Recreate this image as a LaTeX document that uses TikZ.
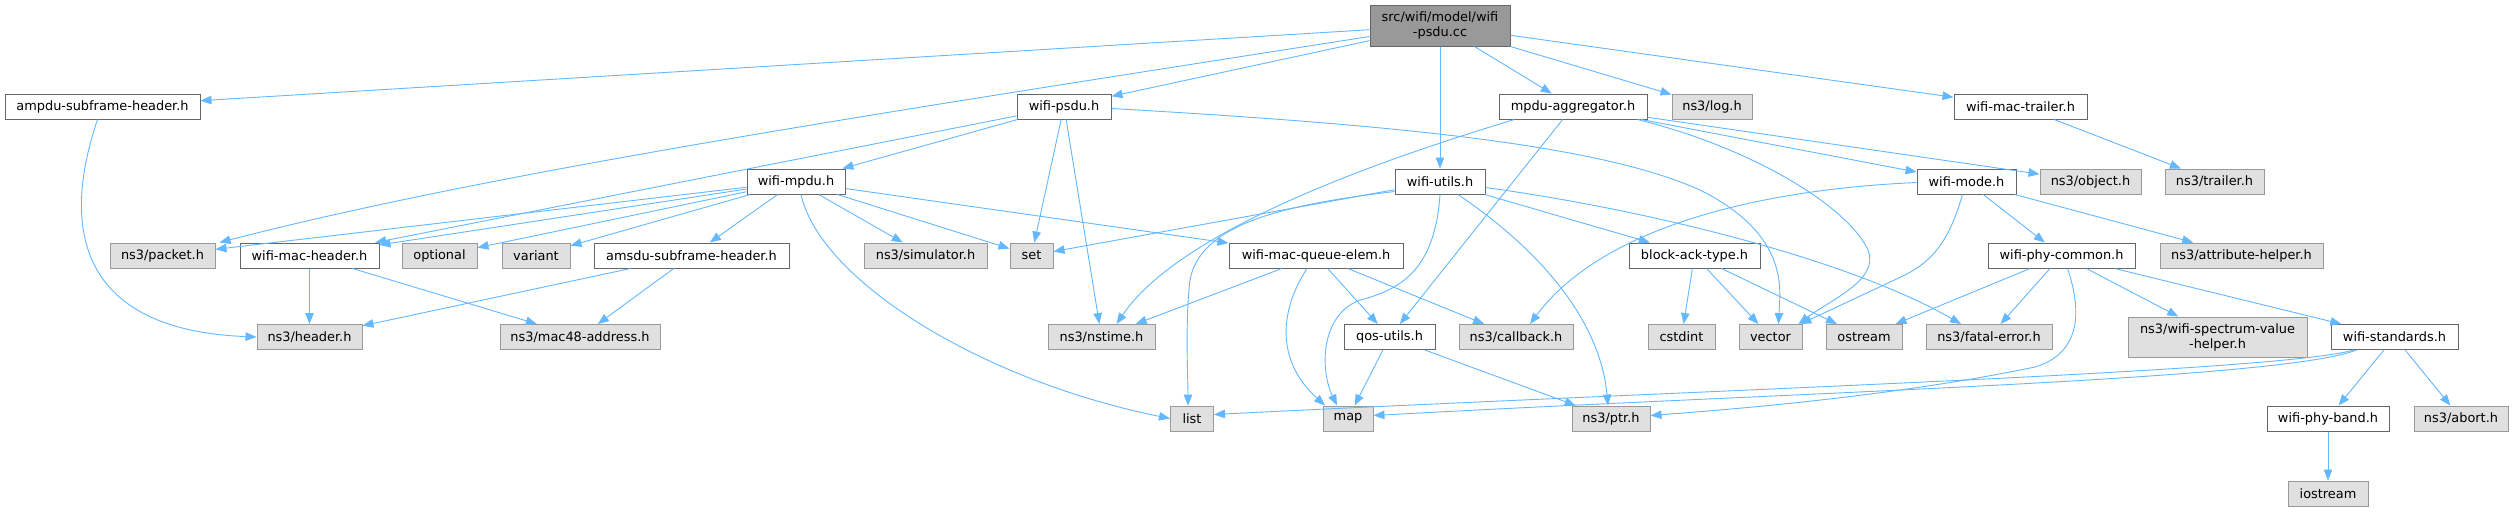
\documentclass[tikz,border=0pt]{standalone}
\usepackage{fontspec}
\setmainfont{DejaVu Sans}
\usetikzlibrary{calc,arrows.meta}
\definecolor{edgec}{HTML}{63B8FF}
\definecolor{wborder}{HTML}{666666}
\definecolor{gfill}{HTML}{E0E0E0}
\definecolor{gborder}{HTML}{999999}
\definecolor{rootfill}{HTML}{999999}
\begin{document}
\begin{tikzpicture}[x=1pt,y=-1pt,
  box/.style={rectangle,inner sep=0pt,minimum height=25pt,line width=1pt,
    font=\fontsize{12.9}{15}\selectfont,text=black},
  wn/.style={box,draw=wborder,fill=white},
  gn/.style={box,draw=gborder,fill=gfill},
  rn/.style={box,draw=wborder,fill=rootfill,align=center},
  e/.style={draw=edgec,line width=0.9pt,-{Triangle[length=11pt,width=8.5pt]}}]
\useasboundingbox (0,0) rectangle (2515,512);
\fill[white] (0,0) rectangle (2515,512);
% row 0
\node[rn,minimum width=140pt,minimum height=41pt] (root) at (1440,25.5) {src/wifi/model/wifi\\-psdu.cc};
% row 1
\node[wn,minimum width=195pt] (ampdu) at (102.5,106.5) {ampdu-subframe-header.h};
\node[wn,minimum width=94pt] (wpsdu) at (1064,106.5) {wifi-psdu.h};
\node[wn,minimum width=148pt] (mpduagg) at (1573,106.5) {mpdu-aggregator.h};
\node[gn,minimum width=80pt] (log) at (1712,106.5) {ns3/log.h};
\node[wn,minimum width=133pt] (trailer) at (2020.5,106.5) {wifi-mac-trailer.h};
% row 2
\node[wn,minimum width=98pt] (wmpdu) at (796,181.5) {wifi-mpdu.h};
\node[wn,minimum width=90pt] (wutils) at (1440,181.5) {wifi-utils.h};
\node[wn,minimum width=99pt] (wmode) at (1966.5,181.5) {wifi-mode.h};
\node[gn,minimum width=101pt] (object) at (2090.5,181.5) {ns3/object.h};
\node[gn,minimum width=99pt] (trailerh) at (2214.5,181.5) {ns3/trailer.h};
% row 3
\node[gn,minimum width=105pt] (packet) at (162.5,255.5) {ns3/packet.h};
\node[wn,minimum width=139pt] (machdr) at (309.5,255.5) {wifi-mac-header.h};
\node[gn,minimum width=75pt] (optional) at (439.5,255.5) {optional};
\node[gn,minimum width=68pt] (variant) at (536,255.5) {variant};
\node[wn,minimum width=195pt] (amsdu) at (691.5,255.5) {amsdu-subframe-header.h};
\node[gn,minimum width=123pt] (simulator) at (925.5,255.5) {ns3/simulator.h};
\node[gn,minimum width=43pt] (set) at (1031.5,255.5) {set};
\node[wn,minimum width=174pt] (queueelem) at (1316,255.5) {wifi-mac-queue-elem.h};
\node[wn,minimum width=131pt] (blockack) at (1694.5,255.5) {block-ack-type.h};
\node[wn,minimum width=147pt] (phycommon) at (2061.5,255.5) {wifi-phy-common.h};
\node[gn,minimum width=163pt] (attr) at (2241.5,255.5) {ns3/attribute-helper.h};
% row 4
\node[gn,minimum width=105pt] (header) at (309.5,337) {ns3/header.h};
\node[gn,minimum width=160pt] (mac48) at (580,337) {ns3/mac48-address.h};
\node[gn,minimum width=107pt] (nstime) at (1101.5,337) {ns3/nstime.h};
\node[wn,minimum width=91pt] (qos) at (1389.5,337) {qos-utils.h};
\node[gn,minimum width=114pt] (callback) at (1516,337) {ns3/callback.h};
\node[gn,minimum width=67pt] (cstdint) at (1681.5,337) {cstdint};
\node[gn,minimum width=63pt] (vector) at (1770.5,337) {vector};
\node[gn,minimum width=76pt] (ostream) at (1864,337) {ostream};
\node[gn,minimum width=126pt] (fatal) at (1989,337) {ns3/fatal-error.h};
\node[gn,minimum width=179pt,minimum height=40pt,align=center] (spectrum) at (2217.5,337) {ns3/wifi-spectrum-value\\-helper.h};
\node[wn,minimum width=127pt] (standards) at (2394.5,337) {wifi-standards.h};
% row 5
\node[gn,minimum width=43pt] (list) at (1192,418.5) {list};
\node[gn,minimum width=50pt] (map) at (1348,418.5) {map};
\node[gn,minimum width=78pt] (ptr) at (1611,418.5) {ns3/ptr.h};
\node[wn,minimum width=122pt] (phyband) at (2328,418.5) {wifi-phy-band.h};
\node[gn,minimum width=94pt] (abort) at (2461,418.5) {ns3/abort.h};
% row 6
\node[gn,minimum width=80pt] (iostream) at (2328,493.5) {iostream};

% root edges
\draw[e] (root) -- (ampdu);
\draw[e] ($(root.west)+(0,11)$) .. controls (900,110) and (500,170) .. ($(packet.north east)+(4,0)$);
\draw[e] (root) -- (wpsdu);
\draw[e] (root) -- (wutils);
\draw[e] (root) -- (mpduagg);
\draw[e] (root) -- (log);
\draw[e] (root) -- (trailer);
% ampdu
\draw[e] ($(ampdu.south)+(-5,0)$) .. controls (60,230) and (80,330) .. (header.west);
% wifi-psdu
\draw[e] (wpsdu) -- (wmpdu);
\draw[e] (wpsdu) -- (machdr);
\draw[e] (wpsdu) -- (set);
\draw[e] (wpsdu) -- (nstime);
\draw[e] ($(wpsdu.east)+(0,2)$) .. controls (1400,125) and (1600,145) .. (1700,190)
  .. controls (1790,235) and (1780,290) .. ($(vector.north)+(8,0)$);
% mpdu-aggregator
\draw[e] ($(mpduagg.south west)+(16,0)$) .. controls (1380,160) and (1180,230) .. ($(nstime.north)+(15,0)$);
\draw[e] (mpduagg) -- (qos);
\draw[e] (mpduagg) -- (wmode);
\draw[e] (mpduagg) -- (object);
\draw[e] ($(mpduagg.south east)+(-10,0)$) .. controls (1760,150) and (1850,210) .. (1868,250)
  .. controls (1880,280) and (1830,300) .. ($(vector.north east)+(-4,0)$);
% wifi-mpdu
\draw[e] (wmpdu) -- (packet);
\draw[e] (wmpdu) -- (machdr);
\draw[e] (wmpdu) -- (optional);
\draw[e] (wmpdu) -- (variant);
\draw[e] (wmpdu) -- (amsdu);
\draw[e] (wmpdu) -- (simulator);
\draw[e] (wmpdu) -- (set);
\draw[e] (wmpdu) -- (queueelem);
\draw[e] ($(wmpdu.south)+(5,0)$) .. controls (820,280) and (980,380) .. (list.west);
% wifi-utils
\draw[e] (wutils) -- (set);
\draw[e] ($(wutils.west)+(0,10)$) .. controls (1280,205) and (1200,225) .. (1190,280)
  .. controls (1185,320) and (1188,380) .. ($(list.north)+(-4,0)$);
\draw[e] (wutils.south) .. controls (1435,270) and (1400,290) .. (1360,300)
  .. controls (1320,315) and (1320,370) .. ($(map.north)+(-11,0)$);
\draw[e] ($(wutils.south)+(18,0)$) .. controls (1540,250) and (1600,320) .. ($(ptr.north)+(-3,0)$);
\draw[e] (wutils) -- (blockack);
\draw[e] ($(wutils.east)+(0,6)$) .. controls (1650,210) and (1850,260) .. ($(fatal.north)+(-28,0)$);
% wifi-mode
\draw[e] ($(wmode.west)+(0,1)$) .. controls (1750,190) and (1600,230) .. ($(callback.north)+(14,0)$);
\draw[e] ($(wmode.south)+(-4,0)$) .. controls (1948,245) and (1930,262) .. (1905,275)
  -- ($(vector.north east)+(-2,0)$);
\draw[e] (wmode) -- (phycommon);
\draw[e] (wmode) -- (attr);
% block-ack-type
\draw[e] (blockack) -- (cstdint);
\draw[e] (blockack) -- (vector);
\draw[e] (blockack) -- (ostream);
% wifi-phy-common
\draw[e] (phycommon) -- (ostream);
\draw[e] (phycommon) -- (fatal);
\draw[e] (phycommon) -- (spectrum);
\draw[e] (phycommon) -- (standards);
\draw[e] ($(phycommon.south)+(6,0)$) .. controls (2085,320) and (2075,355) .. (2035,367)
  .. controls (1900,395) and (1750,408) .. ($(ptr.east)+(0,-3)$);
% wifi-standards
\draw[e] ($(standards.south)+(-41,0)$) .. controls (2280,372) and (1700,390) .. ($(list.east)+(0,-4)$);
\draw[e] ($(standards.south)+(-38,0)$) .. controls (2280,380) and (1800,392) .. ($(map.east)+(0,-3)$);
\draw[e] (standards) -- (phyband);
\draw[e] (standards) -- (abort);
\draw[e] (phyband) -- (iostream);
% wifi-mac-queue-elem
\draw[e] (queueelem) -- (nstime);
\draw[e] ($(queueelem.south)+(-9,0)$) .. controls (1280,310) and (1275,360) .. ($(map.north)+(-23,0)$);
\draw[e] (queueelem) -- (qos);
\draw[e] (queueelem) -- (callback);
% qos-utils
\draw[e] (qos) -- (map);
\draw[e] (qos) -- (ptr);
% headers
\draw[e] (machdr) -- (header);
\draw[e] (machdr) -- (mac48);
\draw[e] (amsdu) -- (header);
\draw[e] (amsdu) -- (mac48);
\draw[e] (trailer) -- (trailerh);
\end{tikzpicture}
\end{document}
